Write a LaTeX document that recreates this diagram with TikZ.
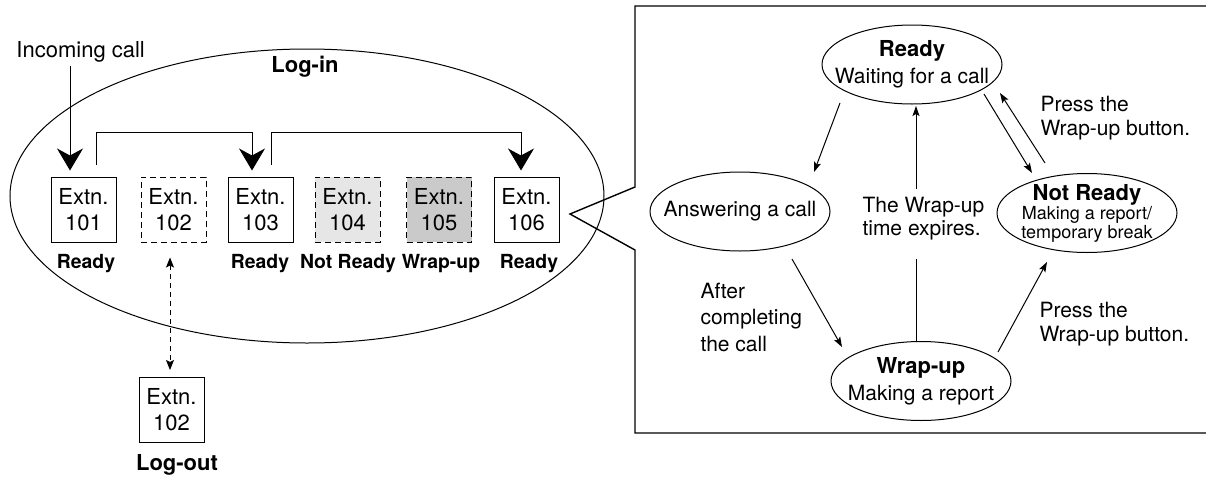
\documentclass[tikz,border=0pt]{standalone}
\usepackage{fontspec}
\setmainfont{TeX Gyre Heros}
\usepackage{tikz}
\usetikzlibrary{arrows.meta, shapes.geometric, calc, positioning}
\definecolor{notreadygray}{RGB}{230,230,230}
\definecolor{wrapupgray}{RGB}{202,202,202}

\begin{document}
\begin{tikzpicture}[x=0.5pt, y=-0.5pt, line width=0.5pt,
  font=\fontsize{10.5}{13.5}\selectfont,
  extbox/.style={draw, minimum width=32.5pt, minimum height=32.5pt, inner sep=0pt,
                 align=center, font=\fontsize{11}{13}\selectfont},
  extoff/.style={extbox, dash pattern=on 3pt off 2pt},
  lbl/.style={font=\fontsize{9.7}{12}\selectfont\bfseries},
  bigarrow/.style={-{Stealth[length=11pt, width=13pt, inset=3.5pt]}},
  smallarrow/.style={-{Stealth[length=5pt, width=3.5pt, inset=1pt]}},
  note/.style={align=left, anchor=west, inner sep=0pt}]
  \useasboundingbox (0,0) rectangle (1206,477);

  % Log-in area
  \draw (307,196) ellipse [x radius=148.5pt, y radius=73.5pt];
  \node[lbl, font=\fontsize{11}{13}\selectfont\bfseries] (login) at (305,67) {Log-in};
  \node[note, font=\fontsize{11}{13}\selectfont] (incoming) at (16,52) {Incoming call};

  % Extensions
  \node[extbox] (e101) at (83.5,209.5) {Extn.\\101};
  \node[extoff] (e102) at (173.5,209.5) {Extn.\\102};
  \node[extbox] (e103) at (260.5,209.5) {Extn.\\103};
  \node[extoff, fill=notreadygray] (e104) at (347.5,209.5) {Extn.\\104};
  \node[extoff, fill=wrapupgray] (e105) at (439,209.5) {Extn.\\105};
  \node[extbox] (e106) at (526.5,209.5) {Extn.\\106};
  \node[extbox] (logout) at (171.5,410) {Extn.\\102};

  \node[lbl] (s101) at (86,264) {Ready};
  \node[lbl] (s103) at (260,264) {Ready};
  \node[lbl] (s104) at (348,264) {Not Ready};
  \node[lbl] (s105) at (441,264) {Wrap-up};
  \node[lbl] (s106) at (529,264) {Ready};
  \node[lbl, font=\fontsize{11}{13}\selectfont\bfseries] (sout) at (177,465) {Log-out};

  % Call routing
  \coordinate (in101) at ($(e101.north)+(-13.5,-6)$);
  \draw[bigarrow, shorten <=1.5pt] (in101 |- incoming.south) -- (in101);
  \draw[bigarrow] ($(e101.north)+(12.5,-12)$) -- ++(0,-32) -| ($(e103.north)+(-8.5,-6)$);
  \draw[bigarrow] ($(e103.north)+(10.5,-12)$) -- ++(0,-32) -| ($(e106.north)+(-5.5,-6)$);
  \draw[{Stealth[length=5pt, width=4pt, inset=1pt]}-{Stealth[length=5pt, width=4pt, inset=1pt]},
        dash pattern=on 2.5pt off 2pt]
        ($(e102.south)+(-3.5,15)$) -- ($(logout.north)+(-1.5,-7)$);

  % Callout panel
  \draw[line width=0.7pt] (1212,6) -- (635,6) -- (635,187) -- (570,214)
        -- (635,250) -- (635,433) -- (1212,433);

  % States
  \node[align=center, inner sep=0pt] (ready) at (912,64.5)
        {{\fontsize{11}{13.5}\selectfont\bfseries Ready}\\Waiting for a call};
  \node[inner sep=0pt] (answer) at (740,211.5) {Answering a call};
  \node[align=center, inner sep=0pt, font=\fontsize{9}{9.5}\selectfont] (notready) at (1087,213)
        {{\fontsize{11}{9.5}\selectfont\bfseries Not Ready}\\Making a report/\\temporary break};
  \node[align=center, inner sep=0pt] (wrapup) at (921,381)
        {{\fontsize{11}{13.5}\selectfont\bfseries Wrap-up}\\Making a report};
  \foreach \s in {ready, answer, notready, wrapup}
    \draw (\s.center) ellipse [x radius=45pt, y radius=19.75pt];

  \node[note, font=\fontsize{10.5}{12}\selectfont] (pressup) at (1040,118) {Press the\\Wrap-up button.};
  \node[note, font=\fontsize{10.5}{12}\selectfont] (pressdown) at (1039,324) {Press the\\Wrap-up button.};
  \node[note, font=\fontsize{10.5}{13.25}\selectfont] (after) at (700,317) {After\\completing\\the call};
  \node[note, font=\fontsize{10.5}{11.5}\selectfont] (expires) at (862,218.5) {The Wrap-up\\time expires.};

  % Transitions
  \draw[smallarrow] ($(ready.center)+(-72,38.5)$) -- ($(answer.center)+(74,-39.5)$);
  \draw[smallarrow] ($(ready.center)+(72,29.5)$) -- ($(notready.center)+(-55,-40)$);
  \draw[smallarrow] ($(notready.center)+(-42,-50)$) -- ($(ready.center)+(88,28.5)$);
  \draw[smallarrow] ($(answer.center)+(52,47.5)$) -- ($(wrapup.center)+(-79,-34)$);
  \draw[smallarrow] ($(wrapup.center)+(77,-29)$) -- ($(notready.center)+(-40,49)$);
  \draw ($(wrapup.center)+(-5,-39)$) -- ++(0,-83);
  \draw[smallarrow] ($(wrapup.center)+(-5,-192)$) -- ($(ready.center)+(4,41.5)$);
\end{tikzpicture}
\end{document}
